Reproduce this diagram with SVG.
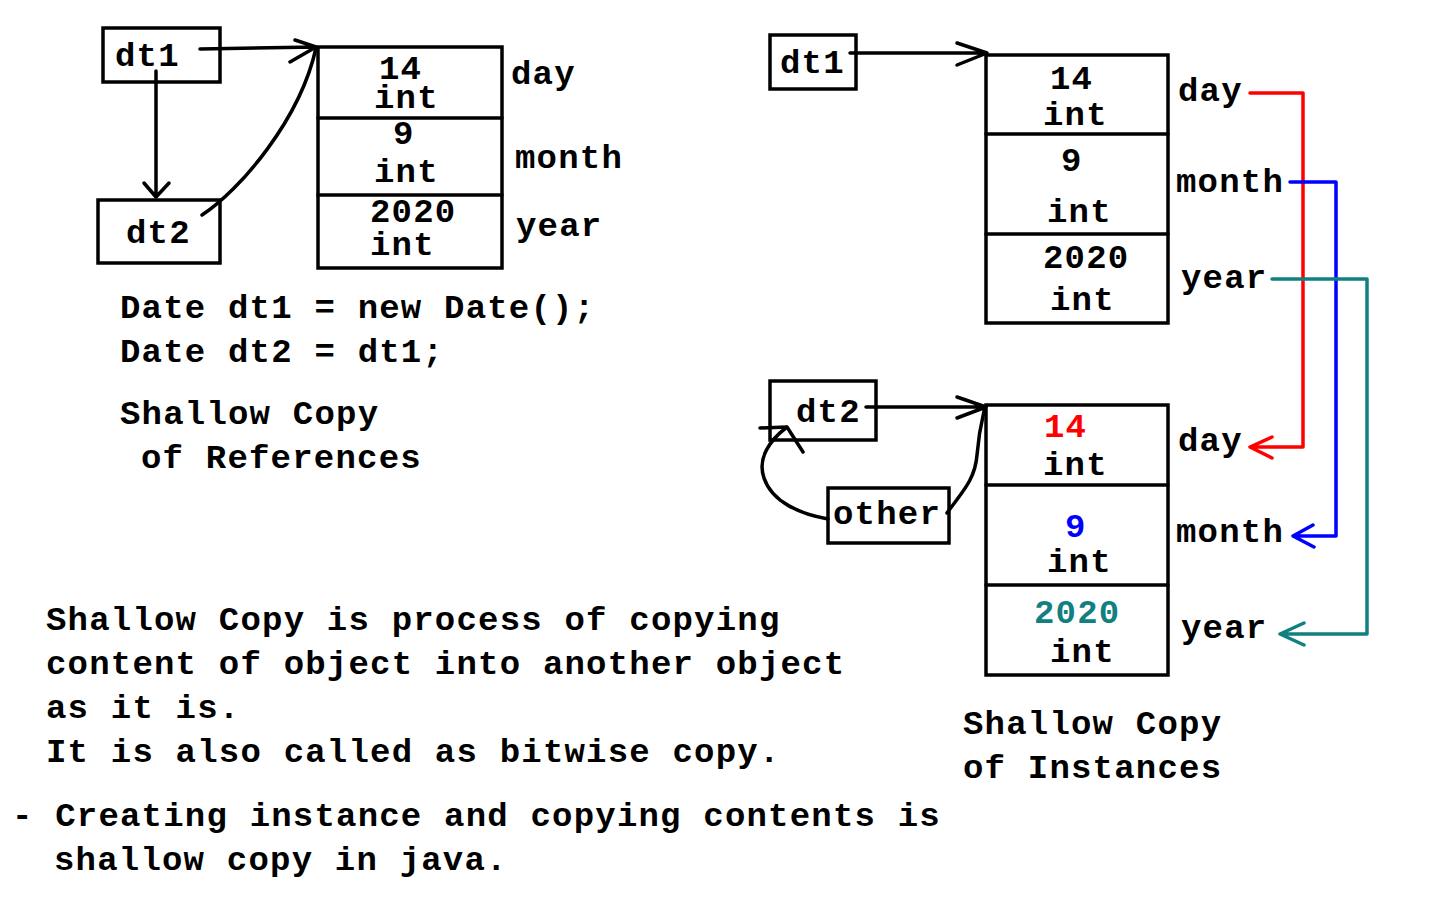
<svg xmlns="http://www.w3.org/2000/svg" width="1440" height="900" viewBox="0 0 1440 900">
<style>
text{font-family:"Liberation Mono","Courier New",monospace;font-weight:bold;font-size:34px;letter-spacing:1.2px;fill:#000}
.box{fill:#fff;stroke:#000;stroke-width:3.5}
.ln{fill:none;stroke:#000;stroke-width:3.5;stroke-linecap:round;stroke-linejoin:round}
.red{stroke:#ff0000}.blue{stroke:#0000ff}.teal{stroke:#128080}
.tred{fill:#ff0000}.tblue{fill:#0000ff}.tteal{fill:#128080}
</style>
<rect width="1440" height="900" fill="#fff"/>
<!-- Left diagram -->
<g id="ref-dt1"><rect class="box" x="103" y="28" width="117" height="54"/><text x="115" y="66">dt1</text></g>
<g id="ref-dt2"><rect class="box" x="98" y="200" width="122" height="63"/><text x="126" y="243">dt2</text></g>
<g id="obj-left">
<rect class="box" x="318" y="47" width="184" height="221"/>
<line class="ln" x1="318" y1="118" x2="502" y2="118"/>
<line class="ln" x1="318" y1="195" x2="502" y2="195"/>
<text x="379" y="79">14</text><text x="374" y="108">int</text>
<text x="393" y="144">9</text><text x="374" y="182">int</text>
<text x="370" y="222">2020</text><text x="370" y="255">int</text>
<text x="511" y="84">day</text><text x="515" y="168">month</text><text x="516" y="236">year</text>
</g>
<!-- Right diagram -->
<g id="inst-dt1"><rect class="box" x="770" y="35" width="86" height="54"/><text x="780" y="73">dt1</text></g>
<g id="obj-dt1">
<rect class="box" x="986" y="55" width="182" height="268"/>
<line class="ln" x1="986" y1="134" x2="1168" y2="134"/>
<line class="ln" x1="986" y1="234" x2="1168" y2="234"/>
<text x="1050" y="89">14</text><text x="1043" y="125">int</text>
<text x="1061" y="171">9</text><text x="1047" y="222">int</text>
<text x="1043" y="268">2020</text><text x="1050" y="310">int</text>
<text x="1178" y="101">day</text><text x="1176" y="192">month</text><text x="1181" y="288">year</text>
</g>
<g id="inst-dt2"><rect class="box" x="770" y="381" width="106" height="59"/><text x="796" y="422">dt2</text></g>
<g id="inst-other"><rect class="box" x="828" y="488" width="121" height="55"/><text x="833" y="524">other</text></g>
<g id="obj-dt2">
<rect class="box" x="986" y="405" width="182" height="270"/>
<line class="ln" x1="986" y1="485" x2="1168" y2="485"/>
<line class="ln" x1="986" y1="585" x2="1168" y2="585"/>
<text class="tred" x="1044" y="437">14</text><text x="1043" y="475">int</text>
<text class="tblue" x="1065" y="537">9</text><text x="1047" y="572">int</text>
<text class="tteal" x="1034" y="623">2020</text><text x="1050" y="662">int</text>
<text x="1178" y="451">day</text><text x="1176" y="542">month</text><text x="1181" y="638">year</text>
</g>
<g id="connectors">
<path class="ln" d="M200,49 L316,47 M295,40 L316,47 L290,62"/>
<path class="ln" d="M156,71 L156,197 M144,183 L156,197 L169,183"/>
<path class="ln" d="M202,215 C240,190 300,120 316,48"/>
<path class="ln" d="M850,53 L987,53 M957,43 L987,53 L957,65"/>
<path class="ln" d="M866,407 L986,407 M957,397 L986,407 L957,418"/>
<path class="ln" d="M947,513 C962,492 975,480 977,455 C979,430 982,420 985,407"/>
<path class="ln" d="M828,519 C800,514 772,502 764,478 C757,458 770,440 787,427 M760,428 L787,427 L803,452"/>
<path class="ln red" d="M1250,93 L1303,93 L1303,447 L1250,447 M1272,437 L1250,447 L1272,458"/>
<path class="ln blue" d="M1290,182 L1336,182 L1336,536 L1293,536 M1313,525 L1293,536 L1314,547"/>
<path class="ln teal" d="M1272,279 L1367,279 L1367,634 L1280,634 M1304,623 L1280,634 L1304,645"/>
</g>
<!-- Text -->
<text x="120" y="318">Date dt1 = new Date();</text>
<text x="120" y="362">Date dt2 = dt1;</text>
<text x="120" y="424">Shallow Copy</text>
<text x="141" y="468">of References</text>
<text x="46" y="630">Shallow Copy is process of copying</text>
<text x="46" y="674">content of object into another object</text>
<text x="46" y="718">as it is.</text>
<text x="46" y="762">It is also called as bitwise copy.</text>
<text x="12" y="826">- Creating instance and copying contents is</text>
<text x="54" y="870">shallow copy in java.</text>
<text x="963" y="734">Shallow Copy</text>
<text x="963" y="778">of Instances</text>
</svg>
